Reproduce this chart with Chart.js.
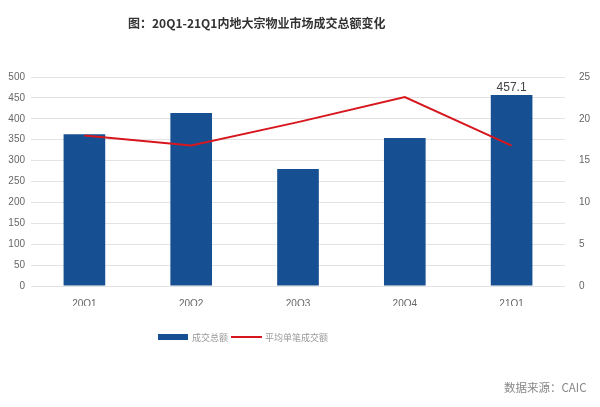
<!DOCTYPE html>
<html>
<head>
<meta charset="utf-8">
<script src="https://cdn.jsdelivr.net/npm/chart.js@4/dist/chart.umd.min.js"></script>
<style>
    html, body { margin: 0; padding: 0; background: #fff; }
    #wrap { position: relative; width: 600px; height: 407px; overflow: hidden; }
    #chart { position: absolute; left: 0; top: 0; }
    .title {
        position: absolute; left: 128px; top: 14px;
        font: bold 12px "Noto Sans CJK SC", sans-serif; color: #333; white-space: nowrap;
    }
    .legend {
        position: absolute; left: 158px; top: 330px; height: 14px;
        font: 9px "Noto Sans CJK SC", sans-serif; color: #999; white-space: nowrap;
        display: flex; align-items: center;
    }
    .legend .box { display: inline-block; width: 30px; height: 6px; background: #175092; margin-right: 4px; }
    .legend .ln { display: inline-block; width: 31px; height: 2px; background: #d7161e; margin: 0 3px 0 3px; }
    .source {
        position: absolute; left: 504px; top: 379px;
        font: 11.5px "Noto Sans CJK SC", sans-serif; color: #888; white-space: nowrap;
    }
</style>
</head>
<body>
<div id="wrap">
    <canvas id="chart" width="600" height="407"></canvas>
    <div class="title">图：20Q1-21Q1内地大宗物业市场成交总额变化</div>
    <div class="legend"><span class="box"></span>成交总额<span class="ln"></span>平均单笔成交额</div>
    <div class="source">数据来源：CAIC</div>
</div>
<script>
// values
const quarters = ['20Q1', '20Q2', '20Q3', '20Q4', '21Q1'];
const totalVolume = [363, 414, 280, 354, 457.1];     // left axis
const avgDealSize = [18.0, 16.8, 19.6, 22.6, 16.8];  // right axis

const barColour = '#175092';
const lineColour = '#d7161e';
const tickFont = {family: '"Liberation Sans", Arial, sans-serif', size: 10};

// only the last quarter carries a value label in the original
const lastBarLabel = {
    id: 'lastBarLabel',
    afterDatasetsDraw(chart) {
        let meta = chart.getDatasetMeta(1); // bar dataset
        let i = meta.data.length - 1;
        let bar = meta.data[i];
        let ctx = chart.ctx;
        ctx.save();
        ctx.font = '12px "Liberation Sans", Arial, sans-serif';
        ctx.fillStyle = '#444';
        ctx.textAlign = 'center';
        ctx.textBaseline = 'bottom';
        ctx.fillText(String(totalVolume[i]), bar.x, bar.y - 1);
        ctx.restore();
    }
};

new Chart(document.getElementById('chart'), {
    data: {
        labels: quarters,
        datasets: [
            {
                type: 'line',
                label: '平均单笔成交额',
                data: avgDealSize,
                yAxisID: 'y1',
                borderColor: lineColour,
                backgroundColor: lineColour,
                borderWidth: 2,
                pointRadius: 0,
                tension: 0,
                order: 0
            },
            {
                type: 'bar',
                label: '成交总额',
                data: totalVolume,
                yAxisID: 'y',
                backgroundColor: barColour,
                categoryPercentage: 1,
                barPercentage: 0.39,
                order: 1
            }
        ]
    },
    options: {
        responsive: false,
        animation: false,
        layout: {padding: {top: 77, bottom: 101, left: 0, right: 0}},
        plugins: {
            legend: {display: false},
            tooltip: {enabled: false}
        },
        scales: {
            x: {
                grid: {display: false},
                border: {display: false},
                ticks: {color: '#666', font: tickFont, padding: 4},
                afterFit: s => { s.height = 20; }
            },
            y: {
                position: 'left',
                min: 0, max: 500,
                ticks: {stepSize: 50, color: '#666', font: tickFont, padding: 6},
                grid: {color: '#e3e3e3', drawTicks: false},
                border: {display: false},
                afterFit: s => { s.width = 31; }
            },
            y1: {
                position: 'right',
                min: 0, max: 25,
                ticks: {stepSize: 5, color: '#666', font: tickFont, padding: 6},
                grid: {display: false},
                border: {display: false},
                afterFit: s => { s.width = 35; }
            }
        }
    },
    plugins: [lastBarLabel]
});
</script>
</body>
</html>
